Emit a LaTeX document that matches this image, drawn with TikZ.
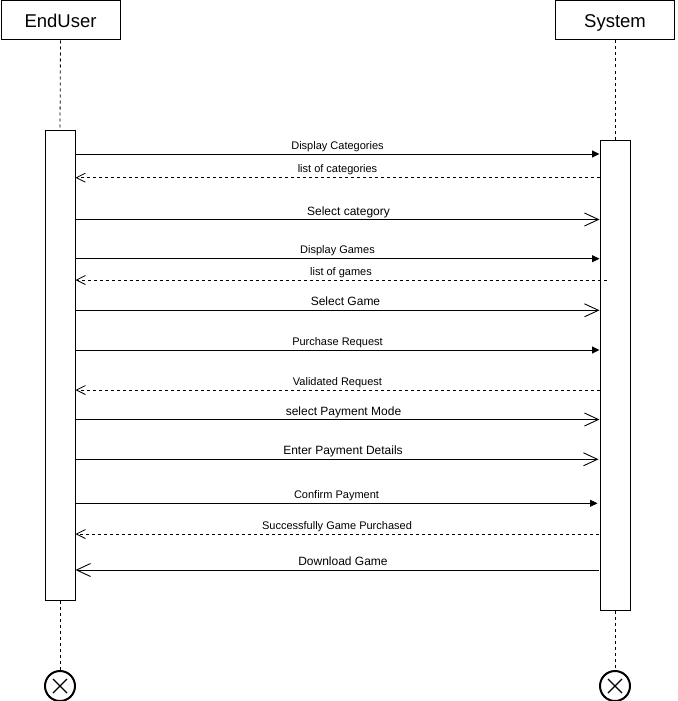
\documentclass[tikz,border=0pt]{standalone}
\usepackage{fontspec}
\setmainfont{Liberation Sans}
\usetikzlibrary{arrows.meta}
\begin{document}
\begin{tikzpicture}[x=1pt,y=-1pt,
  actor/.style={draw, line width=1pt, minimum width=119pt, minimum height=39pt, inner sep=0pt, text height=13.5pt, text depth=0pt, font=\fontsize{18.5}{22}\selectfont},
  act/.style={draw, line width=1pt, fill=white, minimum width=30pt, minimum height=470pt, inner sep=0pt},
  life/.style={line width=0.8pt, dash pattern=on 3pt off 3pt},
  sync/.style={line width=1pt, -{Triangle[length=7.5pt,width=7pt]}},
  reply/.style={line width=0.8pt, dash pattern=on 3pt off 3pt, -{Straight Barb[length=9pt,width=9pt,line width=0.8pt]}},
  async/.style={line width=1pt, -{Straight Barb[length=14pt,width=13pt,line width=0.9pt]}},
  sl/.style={font=\fontsize{11}{13}\selectfont, anchor=base, yshift=5pt, inner sep=0pt},
  ll/.style={font=\fontsize{12}{14}\selectfont, anchor=base, yshift=4.5pt, inner sep=0pt},
  endx/.style={circle, draw, line width=2pt, minimum size=30pt, inner sep=0pt,
    path picture={
      \draw[line width=1.3pt] ([shift={(-7pt,-7pt)}]path picture bounding box.center) -- ([shift={(7pt,7pt)}]path picture bounding box.center);
      \draw[line width=1.3pt] ([shift={(-7pt,7pt)}]path picture bounding box.center) -- ([shift={(7pt,-7pt)}]path picture bounding box.center);
    }}
]
\useasboundingbox (0,0) rectangle (677,701);

% actors
\node[actor] (U) at (60.5,20.5) {EndUser};
\node[actor] (S) at (615,20.5) {System};

% activation bars
\node[act] (aU) at (60,365) {};
\node[act] (aS) at (615,375) {};

% destroy markers
\node[endx] (eU) at (60,686) {};
\node[endx] (eS) at (615,686) {};

% lifelines
\draw[life] (U.south) -- (aU.north);
\draw[life] (aU.south) -- (eU.north);
\draw[life] (S.south) -- (aS.north);
\draw[life] (aS.south) -- (eS.north);

% messages
\draw[sync]  (aU.east |- 0,154) -- (aS.west |- 0,154) node[sl, pos=0.5] {Display Categories};
\draw[reply] (aS.west |- 0,177.7) -- (aU.east |- 0,177.7) node[sl, pos=0.5] {list of categories};
\draw[async] (aU.east |- 0,219.5) -- (aS.west |- 0,219.5) node[ll, pos=0.5, xshift=11pt] {Select category};
\draw[sync]  (aU.east |- 0,258.7) -- (aS.west |- 0,258.7) node[sl, pos=0.5] {Display Games};
\draw[reply] ([xshift=7pt]aS.west |- 0,280) -- (aU.east |- 0,280) node[sl, pos=0.5] {list of games};
\draw[async] (aU.east |- 0,310.3) -- (aS.west |- 0,310.3) node[ll, pos=0.5, xshift=8pt] {Select Game};
\draw[sync]  (aU.east |- 0,350) -- (aS.west |- 0,350) node[sl, pos=0.5] {Purchase Request};
\draw[reply] (aS.west |- 0,390) -- (aU.east |- 0,390) node[sl, pos=0.5] {Validated Request};
\draw[async] (aU.east |- 0,419.5) -- (aS.west |- 0,419.5) node[ll, pos=0.5, xshift=6pt] {select Payment Mode};
\draw[async] (aU.east |- 0,459.3) -- ([xshift=-1pt]aS.west |- 0,459.3) node[ll, pos=0.5, xshift=6pt] {Enter Payment Details};
\draw[sync]  (aU.east |- 0,503.3) -- ([xshift=-2pt]aS.west |- 0,503.3) node[sl, pos=0.5] {Confirm Payment};
\draw[reply] ([xshift=-1pt]aS.west |- 0,534) -- (aU.east |- 0,534) node[sl, pos=0.5] {Successfully Game Purchased};
\draw[async] ([xshift=-1pt]aS.west |- 0,570) -- (aU.east |- 0,570) node[ll, pos=0.5, xshift=6pt] {Download Game};
\end{tikzpicture}
\end{document}
